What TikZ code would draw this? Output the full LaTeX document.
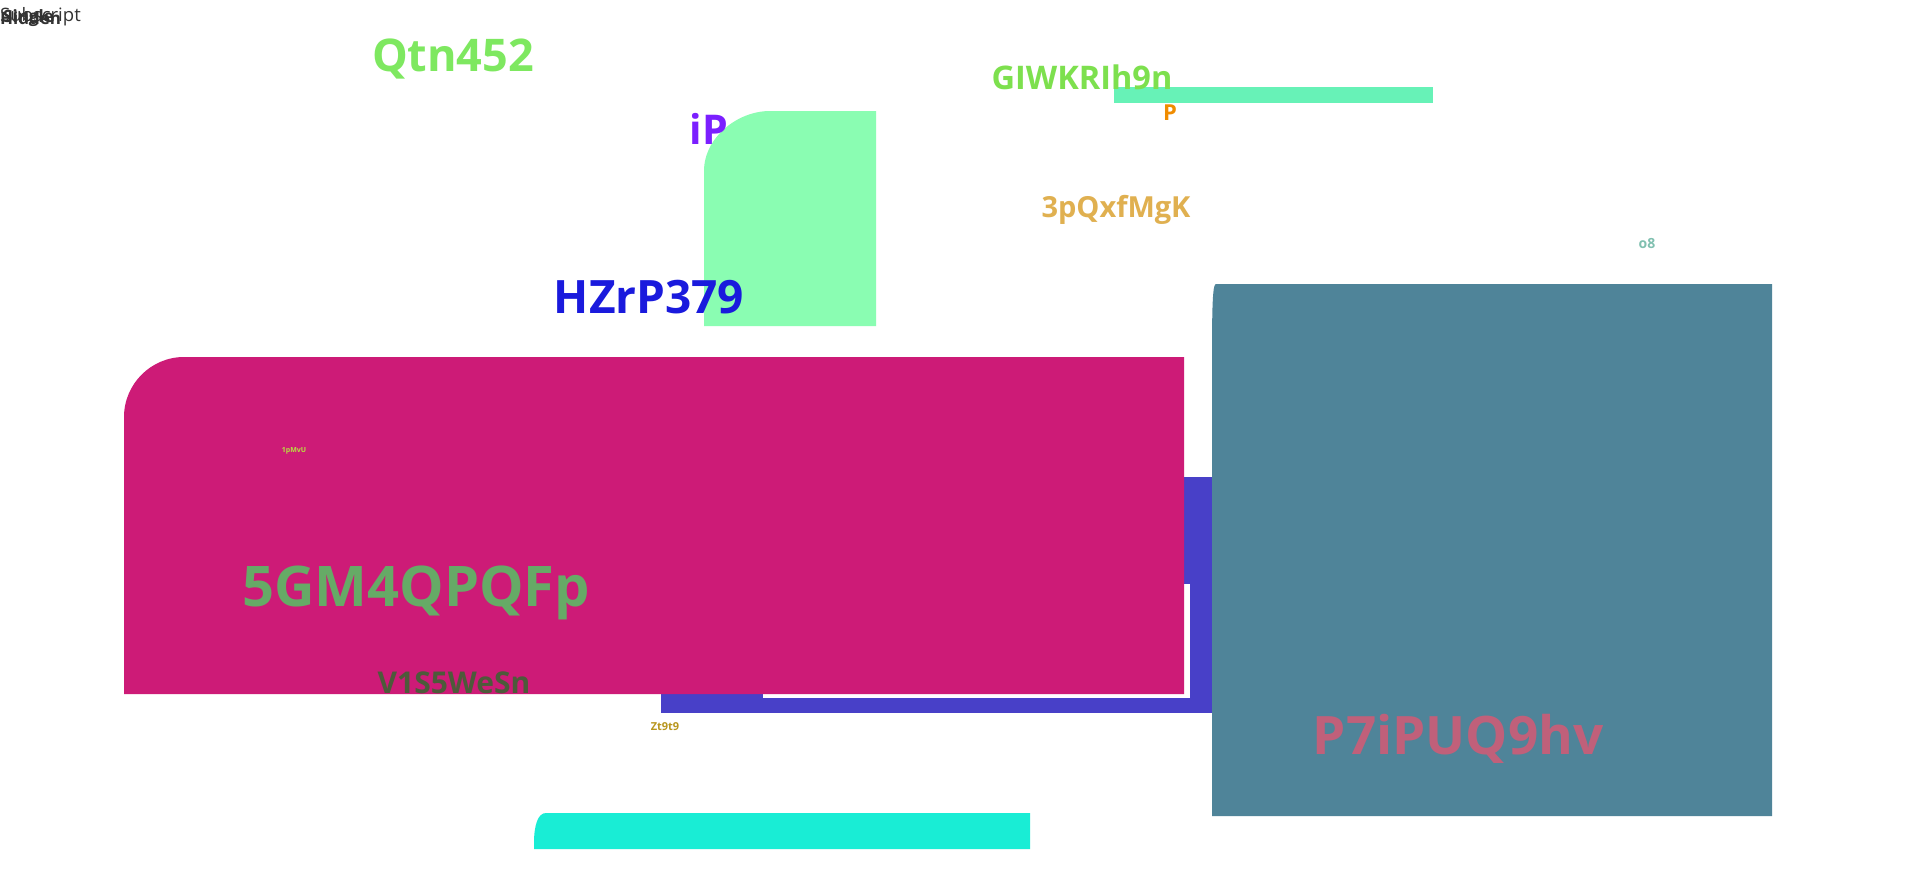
\documentclass[tikz,border=0pt]{standalone}
\usepackage{fontspec}
\setmainfont{Open Sans}
\definecolor{cpink}{HTML}{CD1B77}
\definecolor{cblue}{HTML}{4840C8}
\definecolor{cteal}{HTML}{4F8499}
\definecolor{cmintg}{HTML}{8AFDB2}
\definecolor{cmint}{HTML}{67F2B7}
\definecolor{ccyan}{HTML}{19EDD5}
\definecolor{tQ}{HTML}{7EE860}
\definecolor{tG}{HTML}{7DE04E}
\definecolor{tiP}{HTML}{7B1FFF}
\definecolor{tP}{HTML}{F08C00}
\definecolor{t3p}{HTML}{E0B050}
\definecolor{to8}{HTML}{80C0B0}
\definecolor{tHZ}{HTML}{1A1ADD}
\definecolor{t1p}{HTML}{B8E040}
\definecolor{t5G}{HTML}{66AA66}
\definecolor{tV1}{HTML}{4D5A3A}
\definecolor{tZt}{HTML}{B8961E}
\definecolor{tP7}{HTML}{C0607A}
\definecolor{thid}{HTML}{333333}
\tikzset{lbl/.style={inner sep=0pt,font=\bfseries}}
\begin{document}
\begin{tikzpicture}[x=1pt,y=-1pt]
\useasboundingbox (0,0) rectangle (1920,870);
\fill[white] (0,0) rectangle (1920,870);
% light green rect with rounded top-left
\fill[cmintg] (704,326) -- (704,171) .. controls (704,138) and (737,111) .. (770,111) -- (876,111) -- (876,326) -- cycle;
% mint bar
\fill[cmint] (1114,87) rectangle (1433,103);
% blue rect with white inner
\fill[cblue] (661,477) rectangle (1212,713);
\fill[white] (763,584) rectangle (1190,698);
% pink rect
\fill[cpink] (124,694) -- (124,417) .. controls (124,384) and (151,357) .. (184,357) -- (1184,357) -- (1184,694) -- cycle;
% teal rect
\fill[cteal] (1212,816) -- (1212,354) .. controls (1212,300) and (1213,284) .. (1216,284) -- (1772,284) -- (1772,816) -- cycle;
% cyan bottom
\fill[ccyan] (534,849) -- (534,843) .. controls (534,825) and (538,813) .. (546,813) -- (1030,813) -- (1030,849) -- cycle;
% texts
\node[inner sep=0pt,text=thid,font=\fontsize{18.5}{18.5}\selectfont,anchor=west] (h3) at (0,17) {Subscript};
\node[inner sep=0pt,text=thid,font=\fontsize{17}{17}\bfseries\selectfont,anchor=west] (h1) at (0,18) {Hidden};
\node[inner sep=0pt,text=thid,font=\fontsize{17}{17}\bfseries\selectfont,anchor=west] (h2) at (3,18) {Single};
\node[lbl,text=tQ,font=\fontsize{45}{45}\bfseries\selectfont] (qtn) at (453,59) {Qtn452};
\node[lbl,text=tG,font=\fontsize{32.5}{32.5}\bfseries\selectfont] (giw) at (1082,77) {GIWKRIh9n};
\node[lbl,text=tiP,font=\fontsize{41}{41}\bfseries\selectfont] (ip) at (709,129) {iP};
\node[lbl,text=tP,font=\fontsize{22}{22}\bfseries\selectfont] (p) at (1170,113) {P};
\node[lbl,text=t3p,font=\fontsize{29}{29}\bfseries\selectfont] (t3p) at (1116,210) {3pQxfMgK};
\node[lbl,text=to8,font=\fontsize{14}{14}\bfseries\selectfont] (o8) at (1647,244) {o8};
\node[lbl,text=tHZ,font=\fontsize{46}{46}\bfseries\selectfont] (hz) at (649,297) {HZrP379};
\node[lbl,text=t1p,font=\fontsize{7}{7}\bfseries\selectfont] (p1) at (294,451) {1pMvU};
\node[lbl,text=t5G,font=\fontsize{56}{56}\bfseries\selectfont] (g5) at (416,593) {5GM4QPQFp};
\node[lbl,text=tV1,font=\fontsize{30}{30}\bfseries\selectfont] (v1) at (454,683) {V1S5WeSn};
\node[lbl,text=tZt,font=\fontsize{11}{11}\bfseries\selectfont] (zt) at (665,727) {Zt9t9};
\node[lbl,text=tP7,font=\fontsize{53}{53}\bfseries\selectfont] (p7) at (1458,739) {P7iPUQ9hv};
\end{tikzpicture}
\end{document}
